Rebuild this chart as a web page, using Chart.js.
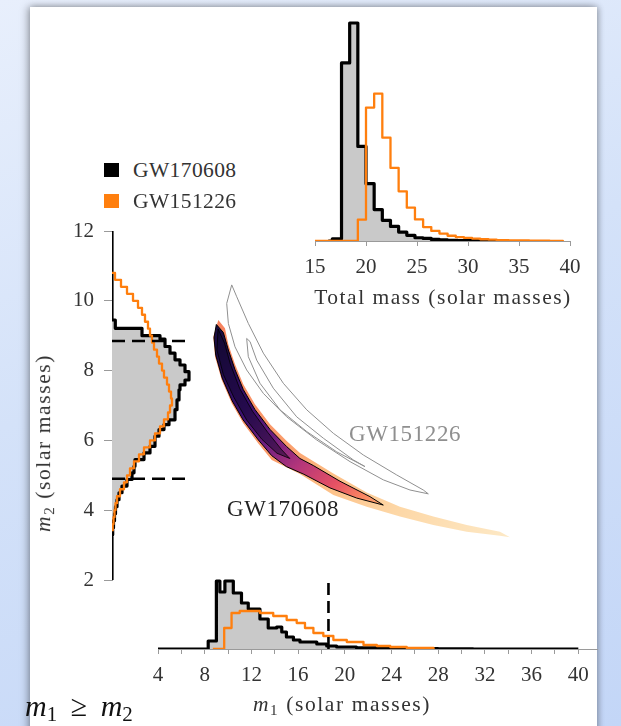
<!DOCTYPE html>
<html><head><meta charset="utf-8">
<script src="https://cdn.jsdelivr.net/npm/chart.js@4.4.0/dist/chart.umd.min.js"></script>
<style>
html,body{margin:0;padding:0;}
body{width:621px;height:726px;overflow:hidden;position:relative;background:linear-gradient(160deg,#e8effc 0%,#d4e2f9 45%,#c3d6f7 100%);font-family:'Liberation Serif',serif;}
#panel{position:absolute;left:30px;top:7px;width:567px;height:740px;background:#fff;box-shadow:-2px 0 8px rgba(0,0,0,0.35),2px 0 6px rgba(0,0,0,0.2);}
canvas{position:absolute;}
.txt{position:absolute;white-space:nowrap;color:#333;font-family:'Liberation Serif',serif;line-height:1;}
.c{transform:translate(-50%,-50%);}
.sq{position:absolute;width:15px;height:14px;}
sub{font-size:70%;vertical-align:-0.25em;}
.rel{margin:0 0.45em;}
</style></head><body>
<div id="panel"></div>
<canvas id="cTop" width="310" height="276" style="left:285px;top:10px"></canvas>
<canvas id="cLeft" width="170" height="399" style="left:40px;top:206px"></canvas>
<canvas id="cBottom" width="490" height="130" style="left:130px;top:560px"></canvas>
<canvas id="cMid" width="420" height="350" style="left:158px;top:231px"></canvas>

<div class="sq" style="left:104px;top:163px;background:#000"></div>
<div class="txt" style="left:133px;top:170.5px;font-size:21.5px;letter-spacing:0.4px;transform:translateY(-50%)">GW170608</div>
<div class="sq" style="left:104px;top:194px;background:#ff7f0e"></div>
<div class="txt" style="left:133px;top:201.5px;font-size:21.5px;letter-spacing:0.4px;transform:translateY(-50%)">GW151226</div>

<div class="txt c" style="left:443px;top:298px;font-size:21.5px;letter-spacing:1.5px">Total mass (solar masses)</div>
<div class="txt c" style="left:342px;top:706px;font-size:21.5px;letter-spacing:1.6px"><i>m</i><sub>1</sub> (solar masses)</div>
<div class="txt" style="left:45px;top:443px;font-size:21.5px;letter-spacing:1.6px;transform:translate(-50%,-50%) rotate(-90deg)"><i>m</i><sub>2</sub> (solar masses)</div>
<div class="txt" style="left:349px;top:433px;font-size:23px;letter-spacing:0.6px;color:#8f8f8f;transform:translateY(-50%)">GW151226</div>
<div class="txt" style="left:227px;top:508px;font-size:23px;letter-spacing:0.6px;color:#222;transform:translateY(-50%)">GW170608</div>
<div class="txt" style="left:25px;top:708px;font-size:30px;color:#111;transform:translateY(-50%)"><i>m</i><sub>1</sub><span class="rel">≥</span><i>m</i><sub>2</sub></div>

<script>
// ---------- Total mass histogram (left bin edges, relative density) ----------
const totalMassEdgesBlack = [16.3, 16.7, 17.6, 18.4, 19.2, 20.0, 20.8, 21.6, 22.4, 23.2, 24.0, 24.8, 25.6, 26.4, 27.2, 28.0, 29.0, 31.0, 33.0];
const totalMassBlack      = [0, 1.0, 81.7, 100, 43.4, 26.3, 14.4, 9.5, 6.7, 4.1, 2.6, 1.5, 1.2, 0.7, 0.5, 0.3, 0.2, 0, 0];
const totalMassEdgesOrange = [15.0, 19.2, 20.0, 20.8, 21.6, 22.4, 23.2, 24.0, 24.8, 25.6, 26.4, 27.2, 28.0, 28.8, 29.6, 30.4, 31.2, 32.0, 32.8, 34.0, 36.0, 38.0, 39.3];
const totalMassOrange      = [0, 9.8, 61.2, 67.6, 47.4, 33.5, 22.8, 15.3, 9.9, 6.4, 4.6, 3.4, 2.4, 1.8, 1.4, 1.1, 0.8, 0.6, 0.4, 0.3, 0.2, 0.1, 0];
const totalMassTicks = [15, 20, 25, 30, 35, 40];

// ---------- m1 histogram ----------
const m1EdgesBlack = [4.0, 8.3, 9.0, 9.3, 9.73, 10.45, 11.15, 11.73, 12.73, 13.44, 14.16, 14.6, 15.0, 15.6, 16.16, 17.6, 18.45, 19.3, 21.0, 23.0, 25.0, 28.0, 31.0, 40.0];
const m1Black      = [0, 8, 68, 57, 68, 56, 46, 40, 30, 21, 22, 17, 12, 9, 7, 5, 3, 2, 1.2, 0.7, 0.4, 0.2, 0, 0];
const m1EdgesOrange = [8.7, 9.67, 10.3, 11.0, 12.73, 13.87, 15.02, 15.88, 16.59, 17.31, 18.16, 19.02, 20.17, 21.6, 22.74, 23.89, 25.3, 27.6];
const m1Orange      = [0, 21, 36, 38, 36, 33, 29, 26, 21, 16, 13, 9, 7, 4, 3, 2, 1, 0];
const m1Upper90 = 18.6;

// ---------- m2 histogram ----------
const m2EdgesBlack = [2.0, 3.3, 3.5, 3.7, 3.9, 4.1, 4.3, 4.5, 4.69, 4.88, 5.07, 5.26, 5.45, 5.64, 5.83, 6.12, 6.31, 6.45, 6.59, 6.88, 7.16, 7.45, 7.59, 7.73, 7.97, 8.16, 8.31, 8.5, 8.69, 8.9, 9.0, 9.21, 9.45, 12.0];
const m2Black      = [0, 0.7, 1.5, 2.5, 3.5, 5, 7, 10, 15, 20, 22, 23, 32, 38, 43, 47, 52, 57, 63, 65, 67, 68, 73, 77, 73, 68, 63, 58, 53, 48, 30, 3.3, 0, 0];
const m2EdgesOrange = [3.4, 3.6, 3.8, 4.0, 4.2, 4.4, 4.6, 4.8, 5.0, 5.2, 5.4, 5.6, 5.8, 6.0, 6.2, 6.4, 6.6, 6.8, 7.0, 7.2, 7.4, 7.6, 7.8, 8.0, 8.2, 8.4, 8.6, 8.8, 9.0, 9.2, 9.4, 9.6, 9.8, 10.0, 10.2, 10.4, 10.6, 10.8];
const m2Orange      = [0.7, 1.5, 2.5, 3.5, 5, 8, 12, 15, 18, 22, 27, 32, 38, 43, 48, 52, 56, 58, 60, 59, 57, 55, 52, 50, 47, 45, 42, 40, 38, 36, 33, 30, 26, 21, 15, 9, 3, 0];
const m2Interval90 = [4.9, 8.85];

// ---------- 2D contours (m1, m2) ----------
const gw170608OuterM1 = [9.17, 8.74, 8.89, 9.46, 10.32, 11.31, 12.6, 13.75, 16.17, 19.03, 21.89, 24.74, 27.6, 30.46, 33.31, 34.17, 33.31, 30.46, 27.6, 24.74, 21.89, 19.03, 16.17, 15.03, 13.6, 12.31, 11.31, 10.6, 10.03, 9.74, 9.17];
const gw170608OuterM2 = [9.46, 8.98, 8.41, 7.74, 7.08, 6.51, 5.93, 5.46, 5.06, 4.46, 4.12, 3.84, 3.6, 3.41, 3.29, 3.25, 3.41, 3.6, 3.84, 4.12, 4.53, 5.07, 5.66, 6.0, 6.48, 7.05, 7.62, 8.19, 8.76, 9.22, 9.46];
const gw170608C90M1 = [9.0, 8.8, 8.95, 9.5, 10.35, 11.3, 12.6, 13.75, 15.0, 16.5, 18.74, 21.03, 23.31, 22.17, 19.6, 17.31, 16.17, 15.03, 13.6, 12.31, 11.31, 10.6, 10.03, 9.6, 9.0];
const gw170608C90M2 = [9.33, 8.95, 8.45, 7.8, 7.15, 6.6, 6.03, 5.58, 5.27, 5.05, 4.66, 4.37, 4.17, 4.41, 4.85, 5.3, 5.5, 5.84, 6.33, 6.9, 7.47, 8.04, 8.6, 9.1, 9.33];
const gw170608C50M1 = [9.15, 9.05, 9.6, 10.5, 11.6, 12.9, 14.2, 15.3, 14.6, 13.4, 12.1, 11.0, 10.2, 9.7, 9.15];
const gw170608C50M2 = [9.2, 8.6, 7.9, 7.25, 6.6, 6.05, 5.65, 5.5, 5.75, 6.25, 6.85, 7.5, 8.2, 8.8, 9.2];
const gw151226C90M1 = [10.32, 9.89, 10.03, 10.6, 11.6, 13.03, 15.03, 17.6, 20.46, 23.31, 25.6, 27.17, 26.74, 24.46, 21.6, 19.03, 16.75, 14.74, 13.03, 11.74, 10.75, 10.32];
const gw151226C90M2 = [10.46, 9.93, 9.36, 8.69, 8.03, 7.36, 6.69, 6.03, 5.41, 4.89, 4.6, 4.49, 4.6, 5.03, 5.6, 6.22, 6.89, 7.65, 8.51, 9.36, 10.12, 10.46];
const gw151226C50M1 = [11.6, 11.74, 12.74, 14.46, 16.75, 19.32, 21.74, 20.74, 18.17, 15.89, 13.88, 12.46, 11.89, 11.6];
const gw151226C50M2 = [8.93, 8.41, 7.65, 6.89, 6.27, 5.69, 5.27, 5.46, 6.08, 6.69, 7.51, 8.31, 8.84, 8.93];

// ---------- helpers & styles ----------
const FONT = 'Liberation Serif';
const BLACK = '#000000', ORANGE = '#ff7f0e', GRAYFILL = '#c9c9c9', TICKCOL = '#9a9a9a', LABELCOL = '#333333';
const steps  = (edges, vals) => edges.map((e, i) => ({x: e, y: vals[i]}));
const stepsV = (edges, vals) => edges.map((e, i) => ({x: vals[i], y: e}));
const pts    = (a, b) => a.map((v, i) => ({x: v, y: b[i]}));
const base = {responsive: false, animation: false, devicePixelRatio: 1,
  plugins: {legend: {display: false}, tooltip: {enabled: false}}};
const tickFont = {family: FONT, size: 21};
const histLine = {pointRadius: 0, borderJoinStyle: 'round', borderCapStyle: 'butt'};

// Top: total mass
new Chart(document.getElementById('cTop'), {
  type: 'line',
  data: {datasets: [
    Object.assign({data: steps(totalMassEdgesOrange, totalMassOrange), borderColor: ORANGE, borderWidth: 2.3, stepped: true, fill: false, order: 1}, histLine),
    Object.assign({data: steps(totalMassEdgesBlack, totalMassBlack), borderColor: BLACK, borderWidth: 3.2, stepped: true, fill: 'origin', backgroundColor: GRAYFILL, order: 2}, histLine)
  ]},
  options: Object.assign({}, base, {
    layout: {padding: {left: 30, right: 25, top: 8, bottom: 0}},
    scales: {
      x: {type: 'linear', min: 15, max: 40,
          afterBuildTicks: s => { s.ticks = totalMassTicks.map(v => ({value: v})); },
          ticks: {font: tickFont, color: LABELCOL, padding: 9, maxRotation: 0, autoSkip: false},
          grid: {drawOnChartArea: false, tickLength: 5, color: TICKCOL}, border: {color: TICKCOL},
          afterFit: s => { s.height = 45; }},
      y: {display: false, min: 0, max: 102.3}
    }
  })
});

// Left: m2
new Chart(document.getElementById('cLeft'), {
  type: 'line',
  data: {datasets: [
    Object.assign({data: [{x: 0, y: m2Interval90[1]}, {x: 78, y: m2Interval90[1]}], borderColor: BLACK, borderWidth: 2.6, borderDash: [13, 7], fill: false, order: 0}, histLine),
    Object.assign({data: [{x: 0, y: m2Interval90[0]}, {x: 78, y: m2Interval90[0]}], borderColor: BLACK, borderWidth: 2.6, borderDash: [13, 7], fill: false, order: 0}, histLine),
    Object.assign({data: stepsV(m2EdgesOrange, m2Orange), borderColor: ORANGE, borderWidth: 2.3, stepped: 'after', fill: false, order: 1}, histLine),
    Object.assign({data: stepsV(m2EdgesBlack, m2Black), borderColor: BLACK, borderWidth: 3.2, stepped: 'after', fill: 'origin', backgroundColor: GRAYFILL, order: 2}, histLine)
  ]},
  options: Object.assign({}, base, {
    indexAxis: 'y',
    layout: {padding: {left: 0, right: 0, top: 25, bottom: 25}},
    scales: {
      x: {type: 'linear', display: false, min: 0, max: 98},
      y: {type: 'linear', min: 2, max: 12,
          ticks: {stepSize: 2, font: tickFont, color: LABELCOL, padding: 10},
          grid: {drawOnChartArea: false, tickLength: 8, color: TICKCOL}, border: {color: TICKCOL},
          afterFit: s => { s.width = 72; }}
    }
  })
});

// Bottom: m1
new Chart(document.getElementById('cBottom'), {
  type: 'line',
  data: {datasets: [
    Object.assign({data: [{x: m1Upper90, y: 0}, {x: m1Upper90, y: 70}], borderColor: BLACK, borderWidth: 2.6, borderDash: [12, 6], fill: false, order: 0}, histLine),
    Object.assign({data: steps(m1EdgesOrange, m1Orange), borderColor: ORANGE, borderWidth: 2.3, stepped: true, fill: false, order: 1}, histLine),
    Object.assign({data: steps(m1EdgesBlack, m1Black), borderColor: BLACK, borderWidth: 3.2, stepped: true, fill: 'origin', backgroundColor: GRAYFILL, order: 2}, histLine)
  ]},
  options: Object.assign({}, base, {
    layout: {padding: {left: 28, right: 23, top: 10, bottom: 0}},
    scales: {
      x: {type: 'linear', min: 4, max: 41.6,
          ticks: {stepSize: 2, includeBounds: false, autoSkip: false, maxRotation: 0, font: tickFont, color: LABELCOL, padding: 9,
                  callback: v => (v % 4 === 0 && v <= 40) ? String(v) : ''},
          grid: {drawOnChartArea: false, tickLength: 5, color: TICKCOL}, border: {color: TICKCOL},
          afterFit: s => { s.height = 41; }},
      y: {display: false, min: 0, max: 79}
    }
  })
});

// Middle: 2D posterior contours
function grad(from, to, stops) {
  return c => {
    const ch = c.chart;
    if (!ch.chartArea) return stops[0][1];
    const xs = ch.scales.x, ys = ch.scales.y;
    const g = ch.ctx.createLinearGradient(xs.getPixelForValue(from[0]), ys.getPixelForValue(from[1]), xs.getPixelForValue(to[0]), ys.getPixelForValue(to[1]));
    stops.forEach(s => g.addColorStop(s[0], s[1]));
    return g;
  };
}
const poly = {pointRadius: 0, tension: 0, borderJoinStyle: 'round'};
new Chart(document.getElementById('cMid'), {
  type: 'line',
  data: {datasets: [
    Object.assign({data: pts(gw151226C90M1, gw151226C90M2), borderColor: '#909090', borderWidth: 1, fill: false, order: 0}, poly),
    Object.assign({data: pts(gw151226C50M1, gw151226C50M2), borderColor: '#909090', borderWidth: 1, fill: false, order: 0}, poly),
    Object.assign({data: pts(gw170608C50M1, gw170608C50M2), borderColor: 'rgba(0,0,0,0.8)', borderWidth: 1, fill: 'shape', backgroundColor: 'rgba(12,4,35,0.45)', order: 1}, poly),
    Object.assign({data: pts(gw170608C90M1, gw170608C90M2), borderColor: '#000', borderWidth: 1, fill: 'shape',
      backgroundColor: grad([9.0, 9.3], [23.3, 4.17], [[0, '#190c3e'], [0.33, '#3b0f70'], [0.5, '#721f81'], [0.65, '#b5367a'], [0.8, '#e55064'], [0.92, '#fb8761'], [1, '#fcaa70']]), order: 2}, poly),
    Object.assign({data: pts(gw170608OuterM1, gw170608OuterM2), borderWidth: 0, borderColor: 'rgba(0,0,0,0)', fill: 'shape',
      backgroundColor: grad([9.0, 9.3], [34.2, 3.25], [[0, '#f7835f'], [0.35, '#fb9e6c'], [0.5, '#fdbf86'], [0.7, '#fdd7a6'], [1, '#fde9c6']]), order: 3}, poly)
  ]},
  options: Object.assign({}, base, {
    layout: {padding: 0},
    scales: {x: {type: 'linear', display: false, min: 4, max: 40}, y: {type: 'linear', display: false, min: 2, max: 12}}
  })
});
</script>
</body></html>
